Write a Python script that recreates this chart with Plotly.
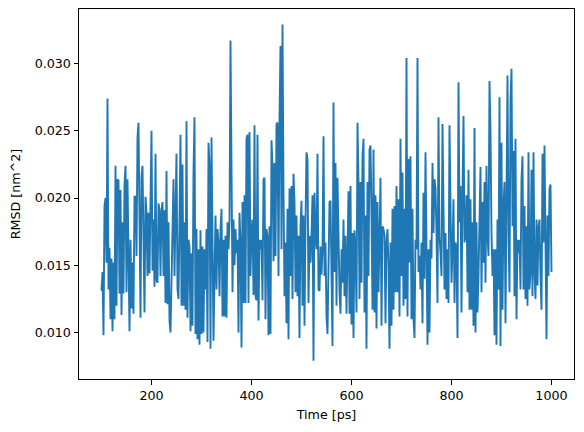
import plotly.graph_objects as go

# Sampling times (ps), every 2 ps from 100 to 1000
time_ps = list(range(100, 1001, 2))

# RMSD values [nm^2], in consecutive segments
rmsd_100_220 = [
    0.0131, 0.0145, 0.0098, 0.0194, 0.0200, 0.0152, 0.0274, 0.0132, 0.0163, 0.0110,
    0.0155, 0.0101, 0.0152, 0.0110, 0.0224, 0.0120, 0.0214, 0.0213, 0.0129, 0.0206,
    0.0113, 0.0182, 0.0129, 0.0210, 0.0224, 0.0130, 0.0214, 0.0169, 0.0101, 0.0169,
    0.0118, 0.0152, 0.0114, 0.0201, 0.0201, 0.0157, 0.0245, 0.0256, 0.0177, 0.0111,
    0.0216, 0.0224, 0.0169, 0.0115, 0.0201, 0.0189, 0.0142, 0.0189, 0.0144, 0.0228,
    0.0250, 0.0146, 0.0184, 0.0134, 0.0233, 0.0139, 0.0137, 0.0196, 0.0191, 0.0142,
    0.0191,
]
rmsd_222_378 = [
    0.0197, 0.0142, 0.0191, 0.0122, 0.0220, 0.0121, 0.0182, 0.0109, 0.0100, 0.0142,
    0.0169, 0.0214, 0.0142, 0.0212, 0.0233, 0.0132, 0.0125, 0.0184, 0.0247, 0.0120,
    0.0225, 0.0120, 0.0182, 0.0117, 0.0257, 0.0111, 0.0169, 0.0164, 0.0101, 0.0159,
    0.0105, 0.0219, 0.0260, 0.0099, 0.0177, 0.0095, 0.0162, 0.0091, 0.0176, 0.0099,
    0.0164, 0.0100, 0.0162, 0.0132, 0.0177, 0.0093, 0.0241, 0.0224, 0.0088, 0.0245,
    0.0182, 0.0094, 0.0142, 0.0187, 0.0132, 0.0177, 0.0167, 0.0127, 0.0176, 0.0192,
    0.0112, 0.0169, 0.0112, 0.0172, 0.0111, 0.0182, 0.0162, 0.0182, 0.0317, 0.0182,
    0.0130, 0.0184, 0.0150, 0.0177, 0.0159, 0.0169, 0.0100, 0.0189, 0.0167,
]
rmsd_380_528 = [
    0.0089, 0.0197, 0.0122, 0.0202, 0.0122, 0.0244, 0.0247, 0.0122, 0.0249, 0.0142,
    0.0177, 0.0184, 0.0128, 0.0254, 0.0127, 0.0124, 0.0247, 0.0109, 0.0169, 0.0162,
    0.0169, 0.0124, 0.0214, 0.0215, 0.0110, 0.0177, 0.0172, 0.0098, 0.0179, 0.0099,
    0.0243, 0.0224, 0.0153, 0.0226, 0.0157, 0.0255, 0.0256, 0.0142, 0.0259, 0.0313,
    0.0162, 0.0329, 0.0205, 0.0127, 0.0167, 0.0107, 0.0192, 0.0095, 0.0207, 0.0142,
    0.0209, 0.0125, 0.0218, 0.0197, 0.0130, 0.0187, 0.0127, 0.0172, 0.0096, 0.0179,
    0.0198, 0.0120, 0.0187, 0.0105, 0.0182, 0.0234, 0.0229, 0.0122, 0.0172, 0.0152,
    0.0172, 0.0202, 0.0079, 0.0204, 0.0172,
]
rmsd_530_678 = [
    0.0162, 0.0233, 0.0132, 0.0131, 0.0164, 0.0143, 0.0162, 0.0246, 0.0142, 0.0167,
    0.0112, 0.0099, 0.0162, 0.0197, 0.0198, 0.0137, 0.0090, 0.0271, 0.0145, 0.0226,
    0.0120, 0.0215, 0.0167, 0.0130, 0.0114, 0.0162, 0.0137, 0.0184, 0.0127, 0.0172,
    0.0114, 0.0163, 0.0205, 0.0114, 0.0209, 0.0106, 0.0174, 0.0096, 0.0176, 0.0162,
    0.0115, 0.0256, 0.0212, 0.0125, 0.0212, 0.0137, 0.0231, 0.0244, 0.0115, 0.0187,
    0.0088, 0.0212, 0.0142, 0.0236, 0.0239, 0.0187, 0.0117, 0.0236, 0.0115, 0.0202,
    0.0103, 0.0197, 0.0130, 0.0169, 0.0215, 0.0105, 0.0179, 0.0177, 0.0172, 0.0107,
    0.0167, 0.0177, 0.0150, 0.0088, 0.0167,
]
rmsd_680_828 = [
    0.0105, 0.0192, 0.0117, 0.0194, 0.0130, 0.0209, 0.0130, 0.0199, 0.0112, 0.0244,
    0.0142, 0.0219, 0.0120, 0.0192, 0.0125, 0.0304, 0.0112, 0.0229, 0.0152, 0.0231,
    0.0110, 0.0192, 0.0110, 0.0096, 0.0169, 0.0162, 0.0304, 0.0145, 0.0157, 0.0132,
    0.0167, 0.0107, 0.0204, 0.0140, 0.0234, 0.0167, 0.0091, 0.0162, 0.0100, 0.0169,
    0.0155, 0.0226, 0.0174, 0.0214, 0.0207, 0.0174, 0.0122, 0.0260, 0.0172, 0.0159,
    0.0142, 0.0255, 0.0167, 0.0132, 0.0174, 0.0125, 0.0162, 0.0122, 0.0254, 0.0167,
    0.0137, 0.0162, 0.0199, 0.0122, 0.0167, 0.0162, 0.0096, 0.0286, 0.0182, 0.0209,
    0.0115, 0.0204, 0.0261, 0.0167, 0.0172,
]
rmsd_830_978 = [
    0.0202, 0.0130, 0.0221, 0.0117, 0.0199, 0.0117, 0.0182, 0.0105, 0.0252, 0.0100,
    0.0182, 0.0115, 0.0142, 0.0177, 0.0223, 0.0130, 0.0197, 0.0152, 0.0212, 0.0137,
    0.0224, 0.0172, 0.0157, 0.0287, 0.0249, 0.0174, 0.0142, 0.0162, 0.0098, 0.0162,
    0.0091, 0.0184, 0.0132, 0.0275, 0.0090, 0.0241, 0.0117, 0.0194, 0.0212, 0.0107,
    0.0189, 0.0291, 0.0172, 0.0130, 0.0273, 0.0296, 0.0179, 0.0235, 0.0127, 0.0244,
    0.0110, 0.0169, 0.0159, 0.0169, 0.0132, 0.0214, 0.0231, 0.0132, 0.0194, 0.0125,
    0.0179, 0.0120, 0.0234, 0.0132, 0.0145, 0.0221, 0.0127, 0.0234, 0.0145, 0.0125,
    0.0184, 0.0135, 0.0179, 0.0184, 0.0142,
]
rmsd_980_1000 = [
    0.0117, 0.0233, 0.0167, 0.0239, 0.0145, 0.0095, 0.0187, 0.0142, 0.0207, 0.0210,
    0.0145,
]

rmsd = (rmsd_100_220 + rmsd_222_378 + rmsd_380_528 + rmsd_530_678
        + rmsd_680_828 + rmsd_830_978 + rmsd_980_1000)

x_ticks = [200, 400, 600, 800, 1000]
y_ticks = [0.010, 0.015, 0.020, 0.025, 0.030]

font_family = "DejaVu Sans"
fs = 12.7

fig = go.Figure()
fig.add_trace(go.Scatter(
    x=time_ps[:len(rmsd)], y=rmsd, mode="lines",
    line=dict(color="#1f77b4", width=1.9),
    showlegend=False,
))

axis_common = dict(
    showline=True, mirror=True, linecolor="black", linewidth=1,
    showgrid=False, zeroline=False,
    ticks="outside", ticklen=4.5, tickwidth=1, tickcolor="black",
    tickfont=dict(family=font_family, size=fs, color="black"),
)

fig.update_layout(
    width=584, height=432,
    margin=dict(l=79, r=10, t=9, b=53),
    paper_bgcolor="white", plot_bgcolor="white",
    font=dict(family=font_family, size=fs, color="black"),
    xaxis=dict(
        range=[55, 1045], tickvals=x_ticks,
        ticktext=[str(v) for v in x_ticks],
        title=dict(text="Time [ps]", standoff=8,
                   font=dict(family=font_family, size=fs, color="black")),
        **axis_common,
    ),
    yaxis=dict(
        range=[0.00655, 0.03405], tickvals=y_ticks,
        ticktext=[f"{v:.3f}" for v in y_ticks],
        title=dict(text="RMSD [nm^2]", standoff=11,
                   font=dict(family=font_family, size=fs, color="black")),
        **axis_common,
    ),
)

fig.write_html("out.html")
